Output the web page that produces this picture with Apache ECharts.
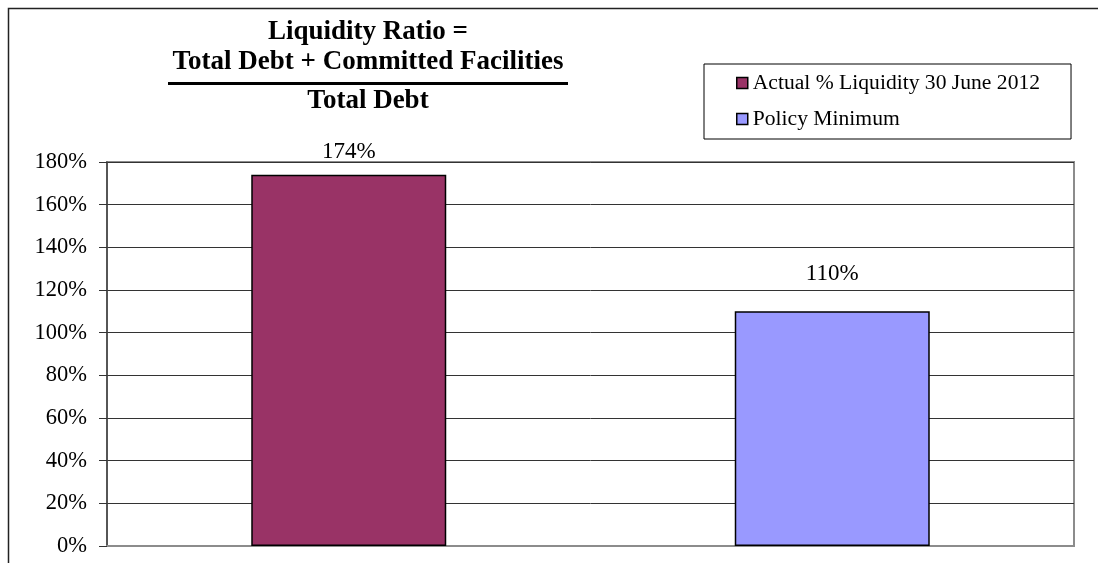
<!DOCTYPE html>
<html>
<head>
<meta charset="utf-8">
<script src="https://cdn.jsdelivr.net/npm/echarts@6/dist/echarts.min.js"></script>
<style>
html,body{margin:0;padding:0;background:#fff;}
#c{width:1098px;height:563px;}
</style>
</head>
<body>
<div id="c"></div>
<script>
var categories = ['Actual', 'Policy'];
var seriesNames = ['Actual % Liquidity 30 June 2012', 'Policy Minimum'];
var actualValues = [174, '-'];
var policyValues = ['-', 110];
var yTicks = [0, 20, 40, 60, 80, 100, 120, 140, 160, 180];
var titleLines = ['Liquidity Ratio =', 'Total Debt + Committed Facilities', 'Total Debt'];

var FONT = '"Liberation Serif", "Times New Roman", serif';
var chart = echarts.init(document.getElementById('c'), null, {renderer: 'canvas'});

var labelStyle = function (dist) {
  return {
    show: true, position: 'top', distance: dist,
    formatter: '{c}%', color: '#000', fontFamily: FONT, fontSize: 23
  };
};

chart.setOption({
  animation: false,
  backgroundColor: '#fff',
  grid: {left: 107, right: 24, top: 162, bottom: 17, show: true,
         borderColor: '#8c8c8c', borderWidth: 2, backgroundColor: 'transparent'},
  legend: {
    orient: 'vertical', left: 704, top: 64,
    padding: [8, 31, 9, 32], itemGap: 14,
    itemWidth: 11, itemHeight: 11, itemTextGap: 7,
    borderColor: '#000', borderWidth: 1, backgroundColor: '#fff',
    icon: 'rect',
    textStyle: {fontFamily: FONT, fontSize: 21.6, color: '#000'},
    itemStyle: {borderColor: '#000', borderWidth: 1.5},
    data: seriesNames
  },
  xAxis: {
    type: 'category', data: categories,
    axisLine: {show: true, lineStyle: {color: '#8c8c8c', width: 2}},
    axisTick: {show: false}, axisLabel: {show: false}, splitLine: {show: false}
  },
  yAxis: {
    type: 'value', min: yTicks[0], max: yTicks[yTicks.length - 1], interval: 20,
    axisLine: {show: true, lineStyle: {color: '#444', width: 1.5}},
    axisTick: {show: true, length: 8, inside: false, lineStyle: {color: '#333', width: 1}},
    axisLabel: {formatter: '{value}%', margin: 20, color: '#000', fontFamily: FONT, fontSize: 22.5},
    splitLine: {show: true, lineStyle: {color: '#333', width: 1}}
  },
  series: [
    {name: seriesNames[0], type: 'bar', data: actualValues, barWidth: 195, barGap: '-100%',
     itemStyle: {color: '#993366', borderColor: '#000', borderWidth: 1.5},
     label: labelStyle(11)},
    {name: seriesNames[1], type: 'bar', data: policyValues, barWidth: 195, barGap: '-100%',
     itemStyle: {color: '#9999FF', borderColor: '#000', borderWidth: 1.5},
     label: labelStyle(26)}
  ],
  graphic: [
    {type: 'rect', silent: true, z: -10,
     shape: {x: 8.5, y: 8.5, width: 1300, height: 1000},
     style: {fill: 'none', stroke: '#222', lineWidth: 1.5}},
    {type: 'text', x: 368, y: 32,
     style: {text: titleLines[0], font: 'bold 27px ' + FONT, fill: '#000', align: 'center', verticalAlign: 'middle'}},
    {type: 'text', x: 368, y: 62,
     style: {text: titleLines[1], font: 'bold 27px ' + FONT, fill: '#000', align: 'center', verticalAlign: 'middle'}},
    {type: 'line', shape: {x1: 168, y1: 83.5, x2: 568, y2: 83.5},
     style: {stroke: '#000', lineWidth: 3}},
    {type: 'text', x: 368, y: 101,
     style: {text: titleLines[2], font: 'bold 27px ' + FONT, fill: '#000', align: 'center', verticalAlign: 'middle'}}
  ]
});
</script>
</body>
</html>
